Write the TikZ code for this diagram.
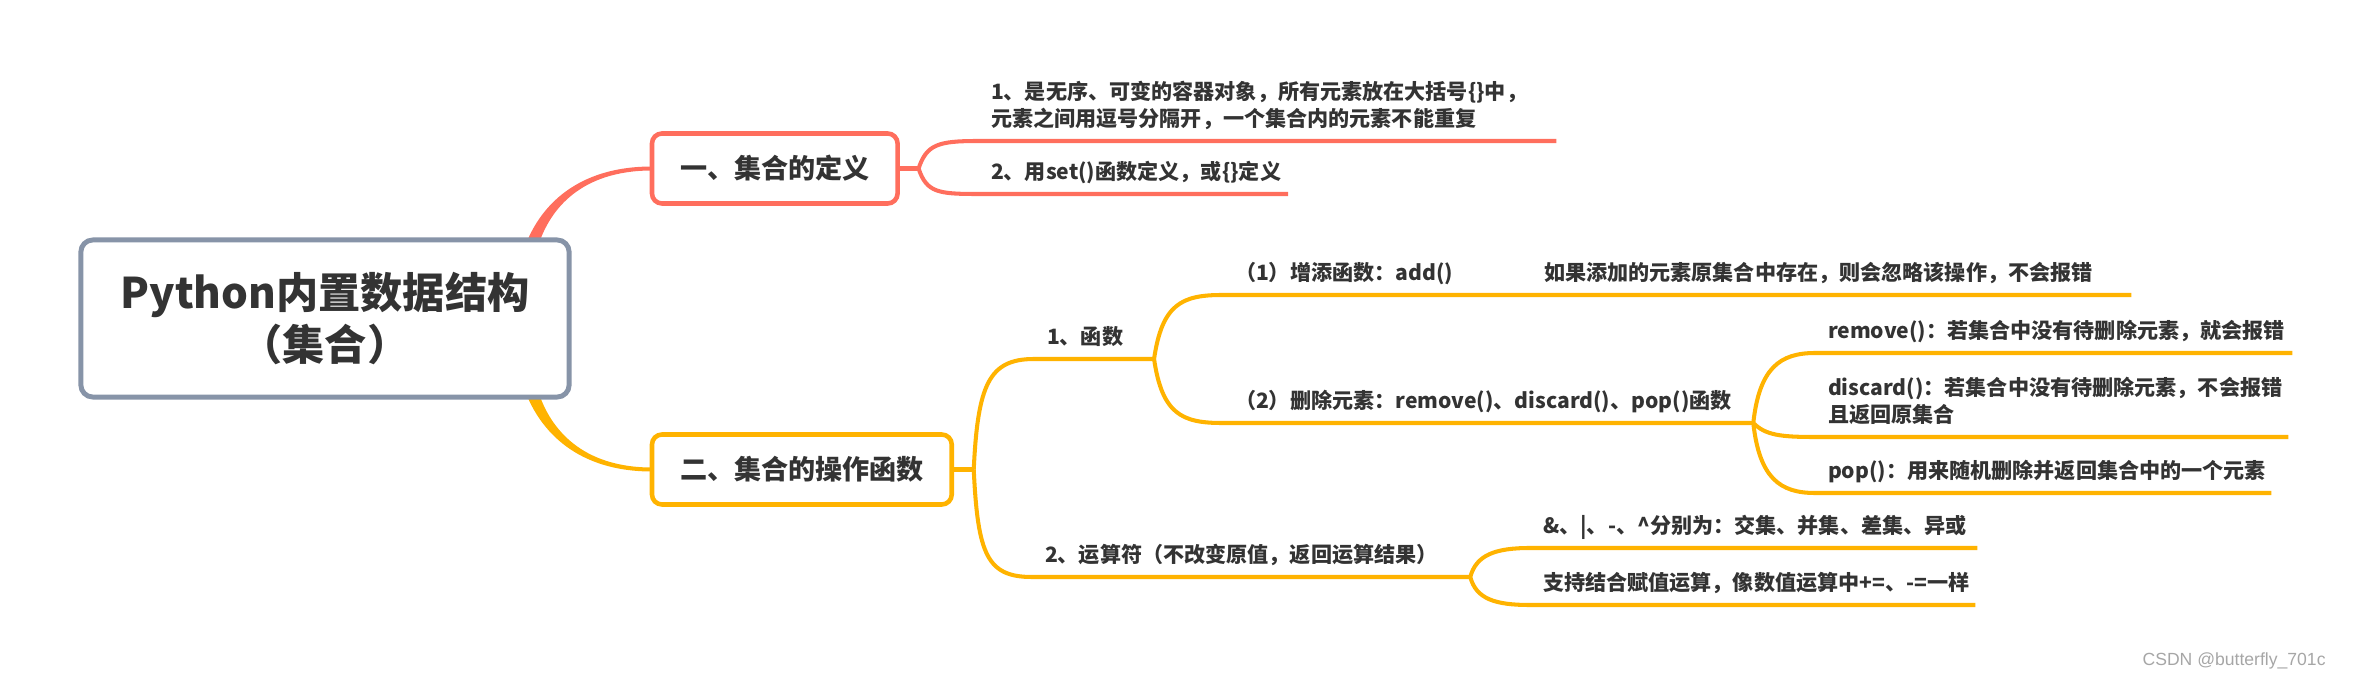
\documentclass[tikz,border=0pt]{standalone}
\usepackage{fontspec}
\usepackage{xcolor}
\usepackage{tikz}
\usetikzlibrary{backgrounds}
\setmainfont{Noto Sans CJK SC}
\newfontfamily\markfont{Liberation Sans}
\definecolor{rootline}{RGB}{135,148,168}
\definecolor{defred}{RGB}{255,110,93}
\definecolor{opsyel}{RGB}{255,179,0}
\definecolor{txt}{RGB}{51,51,51}
\newcommand{\rootfont}{\bfseries\fontsize{12pt}{15pt}\selectfont}
\newcommand{\branchfont}{\bfseries\fontsize{7.7pt}{9pt}\selectfont}
\newcommand{\leaffont}{\bfseries\fontsize{6pt}{7.7pt}\selectfont}
\tikzset{
  rootbox/.style={draw=rootline, line width=1.4pt, rounded corners=0.12cm, fill=white, text=txt, font=\rootfont, align=center, minimum width=4.88cm, minimum height=1.57cm, outer sep=0pt},
  branchbox/.style={draw=#1, line width=1.3pt, rounded corners=0.1cm, fill=white, text=txt, font=\branchfont, anchor=west, inner xsep=0.28cm, minimum height=0.70cm, outer sep=0pt},
  leaf/.style={anchor=south west, outer sep=0pt, inner xsep=0.13cm, inner ysep=4pt, text depth=0pt, text width=#1, align=left, font=\leaffont, text=txt},
  defline/.style={draw=defred, line width=1.15pt},
  opsline/.style={draw=opsyel, line width=1.15pt}
}

\begin{document}
\begin{tikzpicture}[x=0.01cm, y=-0.01cm]
  \useasboundingbox (0,0) rectangle (2368,682);

  \node[rootbox] (root) at (325,318.5) {Python内置数据结构\\（集合）};

  \node[branchbox=defred] (def) at (652,168.5) {一、集合的定义};
  \node[branchbox=opsyel] (ops) at (652,469.5) {二、集合的操作函数};

  \coordinate (deffork) at ([xshift=0.21cm]def.east);
  \coordinate (opsfork) at ([xshift=0.22cm]ops.east);

  \node[leaf=5.52cm, text depth=7.7pt] (def1) at (978,141) {1、是无序、可变的容器对象，所有元素放在大括号\{\}中，\\元素之间用逗号分隔开，一个集合内的元素不能重复};
  \node[leaf=2.84cm] (def2) at (978,194) {2、用set()函数定义，或\{\}定义};

  \node[leaf=0.94cm] (fn) at (1034,359) {1、函数};
  \node[leaf=4.12cm] (op) at (1032,577) {2、运算符（不改变原值，返回运算结果）};

  \node[leaf=2.03cm] (add) at (1222,295) {（1）增添函数：add()};
  \node[leaf=5.74cm] (addnote) at (1531,295) {如果添加的元素原集合中存在，则会忽略该操作，不会报错};
  \node[leaf=5.05cm] (del) at (1222,423) {（2）删除元素：remove()、discard()、pop()函数};

  \node[leaf=4.51cm] (rm) at (1815,353) {remove()：若集合中没有待删除元素，就会报错};
  \node[leaf=4.47cm, text depth=7.7pt] (dc) at (1815,437) {discard()：若集合中没有待删除元素，不会报错\\且返回原集合};
  \node[leaf=4.30cm] (pp) at (1815,493) {pop()：用来随机删除并返回集合中的一个元素};

  \node[leaf=4.21cm] (setop) at (1530,548) {\mbox{\&、|、-、\textasciicircum 分别为：交集、并集、差集、异或}};
  \node[leaf=4.19cm] (assign) at (1530,605) {\mbox{支持结合赋值运算，像数值运算中+=、-=一样}};

  \node[text=gray!70, font=\markfont\fontsize{5pt}{6pt}\selectfont, anchor=east] (mark) at (2338,661) {CSDN @butterfly\_701c};

  \begin{pgfonlayer}{background}
    \path (root.north east) ++(-44,6) coordinate (t1a) ++(13,0) coordinate (t1b);
    \path (root.south east) ++(-44,-6) coordinate (t2a) ++(13,0) coordinate (t2b);
    \fill[defred] (t1a) .. controls +(15,-40) and +(-75,0) .. ([yshift=0.02cm]def.west) -- ([yshift=-0.02cm]def.west) .. controls +(-70,0) and +(12,-38) .. (t1b) -- cycle;
    \fill[opsyel] (t2a) .. controls +(15,40) and +(-75,0) .. ([yshift=-0.02cm]ops.west) -- ([yshift=0.02cm]ops.west) .. controls +(-70,0) and +(12,38) .. (t2b) -- cycle;

    \draw[defline] (def.east) -- (deffork);
    \draw[defline] (deffork) .. controls +(8,-24) and +(-40,0) .. (def1.south west) -- (def1.south east);
    \draw[defline] (deffork) .. controls +(8,24) and +(-40,0) .. (def2.south west) -- (def2.south east);

    \draw[opsline] (ops.east) -- (opsfork);
    \draw[opsline] (opsfork) .. controls +(4,-85) and +(-45,0) .. (fn.south west) -- (fn.south east);
    \draw[opsline] (opsfork) .. controls +(4,85) and +(-45,0) .. (op.south west) -- (op.south east);
    \draw[opsline] (fn.south east) .. controls +(8,-55) and +(-40,0) .. (add.south west) -- (add.south east) -- (addnote.south west) -- (addnote.south east);
    \draw[opsline] (fn.south east) .. controls +(8,55) and +(-40,0) .. (del.south west) -- (del.south east);
    \draw[opsline] (del.south east) .. controls +(6,-55) and +(-35,0) .. (rm.south west) -- (rm.south east);
    \draw[opsline] (del.south east) .. controls +(12,12) and +(-35,0) .. (dc.south west) -- (dc.south east);
    \draw[opsline] (del.south east) .. controls +(6,55) and +(-35,0) .. (pp.south west) -- (pp.south east);
    \draw[opsline] (op.south east) .. controls +(6,-22) and +(-35,0) .. (setop.south west) -- (setop.south east);
    \draw[opsline] (op.south east) .. controls +(6,22) and +(-35,0) .. (assign.south west) -- (assign.south east);
  \end{pgfonlayer}
\end{tikzpicture}
\end{document}
